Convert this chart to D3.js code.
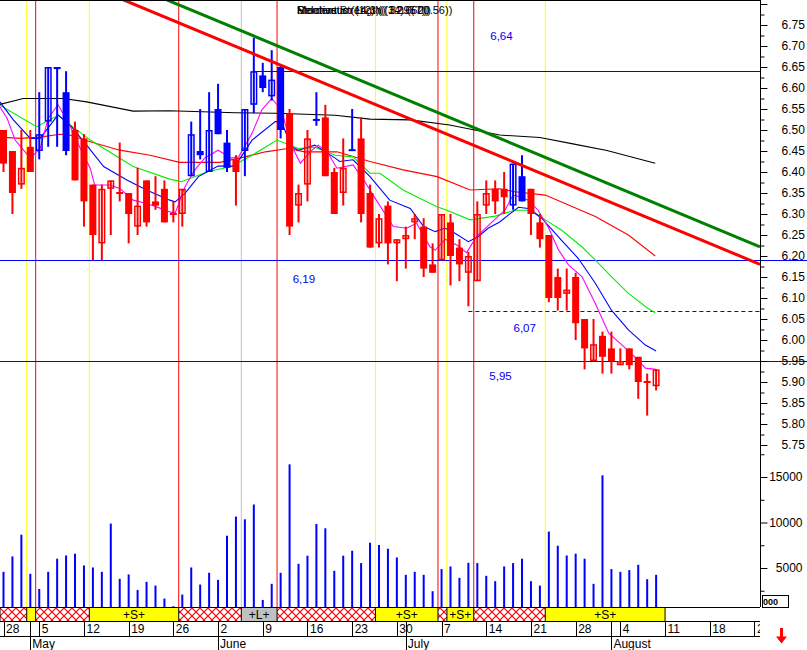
<!DOCTYPE html>
<html><head><meta charset="utf-8">
<script src="https://cdn.jsdelivr.net/npm/d3@7"></script>
<style>
body{margin:0;background:#fff}
svg{display:block}
text{font-family:"Liberation Sans",Arial,sans-serif}
</style></head>
<body><svg id="c" width="807" height="650"></svg>
<script>
// ---------- DATA ----------
const openP  = [6.50,6.45,6.37,6.46,6.45,6.52,6.645,6.59,6.50,6.48,6.37,6.23,6.36,6.35,6.35,6.27,6.38,6.33,6.36,6.30,
                6.30,6.39,6.45,6.40,6.55,6.47,6.43,6.45,6.56,6.63,6.58,6.65,6.54,6.32,6.37,6.524,6.53,6.40,6.35,6.452,
                6.48,6.35,6.23,6.32,6.23,6.24,6.28,6.27,6.18,6.19,6.28,6.22,6.16,6.14,6.32,6.36,6.36,6.32,6.39,6.36,
                6.28,6.25,6.15,6.11,6.15,6.05,5.95,6.01,5.98,5.94,5.98,5.96,5.90,5.89];
const highP  = [6.50,6.45,6.50,6.50,6.59,6.65,6.65,6.64,6.52,6.49,6.37,6.37,6.38,6.47,6.35,6.41,6.38,6.39,6.38,6.33,
                6.36,6.52,6.55,6.59,6.61,6.50,6.44,6.55,6.72,6.66,6.69,6.655,6.55,6.37,6.50,6.59,6.56,6.41,6.48,6.55,
                6.53,6.37,6.30,6.33,6.24,6.27,6.30,6.29,6.23,6.30,6.30,6.24,6.21,6.33,6.38,6.38,6.40,6.42,6.44,6.36,
                6.30,6.25,6.17,6.17,6.16,6.05,6.05,6.02,6.02,5.98,5.98,5.96,5.92,5.93];
const lowP   = [6.40,6.30,6.36,6.40,6.43,6.46,6.46,6.44,6.38,6.27,6.19,6.19,6.25,6.33,6.23,6.25,6.27,6.31,6.28,6.28,
                6.27,6.39,6.43,6.40,6.49,6.40,6.32,6.39,6.54,6.59,6.57,6.48,6.25,6.28,6.33,6.51,6.39,6.30,6.32,6.45,
                6.28,6.22,6.22,6.18,6.14,6.17,6.24,6.15,6.16,6.19,6.13,6.14,6.08,6.14,6.30,6.30,6.30,6.31,6.33,6.25,
                6.22,6.09,6.07,6.07,6.00,5.93,5.95,5.92,5.92,5.94,5.93,5.86,5.82,5.88];
const closeP = [6.42,6.35,6.41,6.40,6.49,6.65,6.65,6.45,6.38,6.33,6.25,6.36,6.38,6.35,6.30,6.32,6.28,6.32,6.28,6.30,
                6.36,6.49,6.44,6.50,6.49,6.41,6.40,6.55,6.64,6.60,6.62,6.50,6.27,6.35,6.48,6.524,6.39,6.30,6.41,6.452,
                6.30,6.22,6.29,6.23,6.24,6.25,6.29,6.17,6.16,6.30,6.20,6.18,6.20,6.30,6.35,6.33,6.34,6.42,6.33,6.30,
                6.24,6.10,6.10,6.12,6.04,5.98,5.99,5.96,5.95,5.95,5.94,5.90,5.90,5.93];
// 1 = long trend (blue candle), 0 = short trend (red candle)
const candleTrend = [0,0,0,0,1,1,1,1,0,0,0,0,0,0,0,0,0,0,0,0,
                     0,1,1,1,1,1,0,1,1,1,1,1,0,0,0,1,0,0,0,1,
                     0,0,0,0,0,0,0,0,0,0,0,0,0,0,0,0,0,1,1,0,
                     0,0,0,0,0,0,0,0,0,0,0,0,0,0];
const volume = [4580,6270,8660,4360,2700,4580,6020,6380,6570,5280,5060,4580,9880,3810,4290,2590,3480,3070,1640,800,
                2080,5060,3180,4470,3700,8550,10650,10350,11980,1490,3260,4470,16390,5460,6350,9840,9360,4690,6350,6900,
                5540,7780,7530,7120,6160,4250,4580,4250,2450,4880,5170,3920,5570,5540,4140,3550,5170,5540,6020,3550,
                3070,9000,7450,6380,6570,6020,3260,15180,4880,4580,4770,5350,3770,4250];
// moving averages, read as [trading-day index, value]
const maLong = [[-0.4,6.561],[2.2,6.575],[6.7,6.575],[9.3,6.567],[14.5,6.545],[18.6,6.546],[25.9,6.541],[30.4,6.540],
  [37.1,6.535],[41,6.526],[45.5,6.524],[49.9,6.512],[55.5,6.488],[60,6.482],[63.7,6.467],[67.5,6.451],[72.9,6.421]];
const ma50 = [[-0.4,6.483],[1.9,6.480],[4.1,6.483],[6.3,6.490],[7.4,6.488],[9.7,6.472],[13,6.452],[16.4,6.440],[19.7,6.423],
  [24.2,6.423],[27,6.436],[29.3,6.448],[31.8,6.456],[33.7,6.448],[37.3,6.448],[41,6.425],[44.7,6.405],[48.5,6.389],
  [52.2,6.357],[55.5,6.360],[57.2,6.353],[60.6,6.345],[66.2,6.294],[69.9,6.250],[72.9,6.200]];
const ma20 = [[-0.4,6.559],[3.7,6.508],[6.1,6.535],[9.7,6.476],[14.5,6.413],[18.6,6.383],[19.9,6.377],[22.9,6.401],
  [25.5,6.413],[27.8,6.440],[30.6,6.476],[33,6.456],[34.8,6.459],[37.1,6.440],[39.1,6.436],[41,6.397],[42.1,6.397],
  [44.7,6.357],[46.2,6.341],[48.5,6.317],[49.6,6.309],[52.2,6.286],[55,6.295],[57.2,6.309],[59.1,6.309],[60.6,6.286],
  [62.4,6.262],[64.7,6.222],[66.2,6.190],[68,6.151],[69.9,6.111],[72.1,6.075],[72.9,6.065]];
const ma10 = [[-0.4,6.567],[1.1,6.524],[3,6.480],[4.1,6.480],[6.1,6.536],[7.6,6.508],[9.3,6.464],[11.2,6.413],[13.8,6.381],
  [16,6.357],[18.6,6.333],[19.2,6.329],[20.3,6.349],[21.8,6.389],[24,6.414],[25.9,6.414],[27.8,6.476],[30.4,6.520],
  [31.1,6.520],[32.2,6.460],[33,6.452],[34.8,6.464],[37.1,6.433],[37.6,6.425],[39.1,6.429],[41,6.389],[43.2,6.333],
  [45.5,6.313],[47,6.270],[48.3,6.258],[49.4,6.266],[50.5,6.254],[52,6.234],[53.1,6.246],[54.2,6.266],[55.5,6.281],
  [56.5,6.298],[57.6,6.316],[58.7,6.313],[60.2,6.290],[62.4,6.238],[64.3,6.194],[66.2,6.135],[68,6.071],[69.9,6.024],
  [71.8,5.988],[73,5.974]];
const ma5 = [[-0.4,6.555],[0.4,6.528],[1.3,6.476],[3,6.433],[4.1,6.456],[5,6.528],[6.1,6.560],[7.4,6.512],[8.6,6.456],
  [9.7,6.409],[10.2,6.369],[11.9,6.369],[13,6.361],[14.5,6.333],[16,6.325],[17.5,6.314],[18.6,6.305],[19.2,6.302],
  [20.3,6.365],[21.4,6.405],[22.5,6.433],[24,6.452],[25.5,6.433],[26.3,6.436],[27.8,6.492],[28.9,6.548],[30,6.575],
  [31.1,6.548],[32.1,6.468],[33.2,6.421],[34.5,6.452],[35.2,6.464],[36.3,6.445],[37.3,6.409],[39.1,6.417],[40.3,6.381],
  [41.7,6.333],[43.6,6.270],[45.1,6.266],[46.2,6.278],[47.7,6.222],[48.3,6.214],[49.4,6.240],[50.7,6.226],[51.8,6.208],
  [52.9,6.246],[54.1,6.270],[55.5,6.298],[56.1,6.309],[57,6.345],[57.8,6.341],[58.7,6.333],[59.8,6.309],[60.9,6.270],
  [62.1,6.214],[63.2,6.179],[64.7,6.151],[66.2,6.087],[67.7,6.016],[69.2,5.988],[70.6,5.960],[71.8,5.933],[73,5.930]];
// trend lines: two anchor points each [index, price]
const trendRed   = [[13.4,6.81],[74.0,6.274]];
const trendGreen = [[18.26,6.81],[60.0,6.440]];
// support / resistance levels (label placed at [li, ly] in index / price units)
const levels = [{v:6.64,from:28,dash:false,full:false,lab:"6,64",li:55.7,ly:6.714},
                {v:6.19,from:-1,dash:false,full:true, lab:"6,19",li:33.6,ly:6.136},
                {v:6.07,from:52,dash:true, full:false,lab:"6,07",li:58.3,ly:6.019},
                {v:5.95,from:-1,dash:false,full:true, lab:"5,95",li:55.6,ly:5.905}];
// trading signals
const signalStart = [0,3,4,10,20,27,31,42,49,50,53,61];
const signalType  = ["x","S","x","S","x","L","x","S","x","S","x","S"];
const signalEnd = 74;
const priceTicks = [5.75,5.80,5.85,5.90,5.95,6.00,6.05,6.10,6.15,6.20,6.25,6.30,6.35,6.40,6.45,6.50,6.55,6.60,6.65,6.70,6.75];
const volTicks = [5000,10000,15000];
const holidays = ["2003-05-01"];
const titleTexts = ["Relative Strength (14) (( 20.56))","Stochastic (14,3)(( 32.660))","Momentum (12)  (( 3.2957))"];

// ---------- SCALES ----------
const svg = d3.select("#c");
const x = d3.scaleLinear().domain([0,84]).range([3.5,3.5+84*8.94]);
const y = d3.scaleLinear().domain([5.75,6.75]).range([445,25]);
const yv = d3.scaleLinear().domain([5000,15000]).range([568,477]);
const AX = 760, BAND_T = 607, BAND_B = 621, DATE_B = 636;

// trading calendar
const cal = [];
{ let d = new Date(Date.UTC(2003,3,28));
  while (cal.length < 95) {
    const wd = d.getUTCDay(), s = d.toISOString().slice(0,10);
    if (wd>0 && wd<6 && !holidays.includes(s)) cal.push(new Date(d));
    d.setUTCDate(d.getUTCDate()+1);
  } }

const defs = svg.append("defs");
const pat = defs.append("pattern").attr("id","hatch").attr("patternUnits","userSpaceOnUse")
  .attr("width",8).attr("height",8);
pat.append("rect").attr("width",8).attr("height",8).attr("fill","#fff");
pat.append("path").attr("d","M0,0L8,8M8,0L0,8").attr("stroke","#ff0000").attr("stroke-width",1.2);
defs.append("clipPath").attr("id","plotclip").append("rect").attr("x",0).attr("y",0).attr("width",AX).attr("height",BAND_T);
defs.append("clipPath").attr("id","dateclip").append("rect").attr("x",0).attr("y",BAND_B).attr("width",AX).attr("height",40);

// ---------- signal vertical lines ----------
const segColor = {x:"#ff0000",S:"#ffff00",L:"#c0c0c0"};
const bx = k => k===0 ? 0 : x(signalStart[k]-0.4);
const ex = k => k===signalStart.length-1 ? x(signalEnd) : x(signalStart[k+1]-0.4);
const gV = svg.append("g");
signalStart.forEach((s,k)=>{
  if(k===0) return;
  gV.append("line").attr("x1",bx(k)).attr("x2",bx(k)).attr("y1",0).attr("y2",BAND_T)
    .attr("stroke",segColor[signalType[k]]).attr("stroke-width",1);
});

// ---------- levels ----------
const gL = svg.append("g");
levels.forEach(l=>{
  const x1 = l.from<0 ? 0 : x(l.from);
  const x2 = l.full ? 807 : AX;
  gL.append("line").attr("x1",x1).attr("x2",x2).attr("y1",Math.round(y(l.v))+0.5).attr("y2",Math.round(y(l.v))+0.5)
    .attr("stroke","#0000ff").attr("stroke-width",1.2).attr("stroke-dasharray",l.dash?"4,3":null);
  gL.append("text").attr("x",x(l.li)).attr("y",y(l.ly)).attr("font-size",11.5).attr("fill","#0000ee")
    .attr("text-anchor","middle").text(l.lab);
});

// ---------- moving averages ----------
const gM = svg.append("g").attr("clip-path","url(#plotclip)");
const lineGen = d3.line().x(d=>x(d[0])).y(d=>y(d[1]));
[[maLong,"#000000"],[ma50,"#ff0000"],[ma20,"#00ee00"],[ma10,"#0000ff"],[ma5,"#ff00ff"]].forEach(([arr,c])=>{
  gM.append("path").attr("d",lineGen(arr)).attr("fill","none").attr("stroke",c).attr("stroke-width",1.1);
});

// ---------- volume ----------
const gVol = svg.append("g");
volume.forEach((v,i)=>{
  gVol.append("rect").attr("x",x(i)-1).attr("y",yv(v)).attr("width",2).attr("height",BAND_T-yv(v)).attr("fill","#0000ff");
});

// ---------- candles ----------
const gC = svg.append("g");
openP.forEach((o,i)=>{
  const c = closeP[i], h = highP[i], l = lowP[i];
  const col = candleTrend[i] ? "#0000ff" : "#ff0000";
  const cx = x(i);
  gC.append("line").attr("x1",cx).attr("x2",cx).attr("y1",y(h)).attr("y2",y(l)).attr("stroke",col).attr("stroke-width",2);
  const top = y(Math.max(o,c)), bot = y(Math.min(o,c));
  if (Math.abs(o-c) < 0.004) {
    gC.append("line").attr("x1",cx-3.5).attr("x2",cx+3.5).attr("y1",top).attr("y2",top).attr("stroke",col).attr("stroke-width",2);
  } else if (c < o) {
    gC.append("rect").attr("x",cx-3.5).attr("y",top).attr("width",7).attr("height",bot-top).attr("fill",col);
  } else {
    gC.append("rect").attr("x",cx-2.75).attr("y",top+0.75).attr("width",5.5).attr("height",Math.max(0.5,bot-top-1.5))
      .attr("fill","none").attr("stroke",col).attr("stroke-width",1.5);
  }
});

// ---------- trend lines ----------
const gT = svg.append("g").attr("clip-path","url(#plotclip)");
[[trendRed,"#ff0000"],[trendGreen,"#008000"]].forEach(([p,c])=>{
  const slope = (p[1][1]-p[0][1])/(p[1][0]-p[0][0]);
  const iEnd = x.invert(AX);
  gT.append("line").attr("x1",x(p[0][0])).attr("y1",y(p[0][1]))
    .attr("x2",x(iEnd)).attr("y2",y(p[0][1]+slope*(iEnd-p[0][0])))
    .attr("stroke",c).attr("stroke-width",3);
});

// ---------- signal band ----------
const gB = svg.append("g");
signalStart.forEach((s,k)=>{
  const t = signalType[k], a = bx(k), b = ex(k);
  gB.append("rect").attr("x",a).attr("y",BAND_T).attr("width",b-a).attr("height",BAND_B-BAND_T)
    .attr("fill", t==="x" ? "url(#hatch)" : (t==="S" ? "#ffff00" : "#c0c0c0"));
  gB.append("line").attr("x1",a).attr("x2",a).attr("y1",BAND_T).attr("y2",BAND_B).attr("stroke","#000").attr("stroke-width",1);
  if (t!=="x" && b-a>20) {
    gB.append("text").attr("x",(a+b)/2).attr("y",BAND_B-2.5).attr("text-anchor","middle").attr("font-size",12)
      .text(t==="S" ? "+S+" : "+L+");
  }
});
gB.append("line").attr("x1",ex(signalStart.length-1)).attr("x2",ex(signalStart.length-1)).attr("y1",BAND_T).attr("y2",BAND_B).attr("stroke","#000");
[BAND_T,BAND_B,DATE_B].forEach(yy=>{
  gB.append("line").attr("x1",0).attr("x2",AX).attr("y1",yy+0.5).attr("y2",yy+0.5).attr("stroke","#000");
});

// ---------- date axis ----------
const gD = svg.append("g").attr("clip-path","url(#dateclip)");
cal.forEach((d,i)=>{
  if (x(i) > AX+20) return;
  if (d.getUTCDay()===1) {
    gD.append("line").attr("x1",Math.round(x(i))+0.5).attr("x2",Math.round(x(i))+0.5).attr("y1",BAND_B).attr("y2",DATE_B).attr("stroke","#000");
    gD.append("text").attr("x",x(i)+2.5).attr("y",DATE_B-3).attr("font-size",12).text(d.getUTCDate());
  }
  if (i>0 && d.getUTCMonth()!==cal[i-1].getUTCMonth()) {
    gD.append("line").attr("x1",Math.round(x(i))+0.5).attr("x2",Math.round(x(i))+0.5).attr("y1",BAND_B).attr("y2",650).attr("stroke","#000");
    gD.append("text").attr("x",x(i)+2).attr("y",648).attr("font-size",12)
      .text(d.toLocaleString("en-US",{month:"long",timeZone:"UTC"}));
  }
});

// ---------- price axis ----------
svg.append("line").attr("x1",AX+0.5).attr("x2",AX+0.5).attr("y1",0).attr("y2",BAND_T).attr("stroke","#000");
const minorP = d3.range(5.75,6.81,0.025).map(v=>+v.toFixed(3));
const gA = svg.append("g").attr("transform",`translate(${AX+0.5},0)`);
gA.call(d3.axisRight(y).tickValues(minorP).tickSize(4).tickFormat(""));
gA.append("g").call(d3.axisRight(y).tickValues(priceTicks.concat([6.80])).tickSize(7).tickPadding(14).tickFormat(v=>v>6.76?"":d3.format(".2f")(v)));
const gAV = svg.append("g").attr("transform",`translate(${AX+0.5},0)`);
gAV.call(d3.axisRight(yv).tickValues([2500,7500,12500,17500]).tickSize(4).tickFormat(""));
gAV.append("g").call(d3.axisRight(yv).tickValues(volTicks).tickSize(7).tickPadding(14).tickFormat(d3.format("d")));
svg.selectAll(".domain").remove();
svg.selectAll(".tick line").attr("stroke","#000");
svg.selectAll(".tick text").attr("font-size",12).attr("font-family","'Liberation Sans',Arial,sans-serif").attr("fill","#000");
gAV.selectAll(".tick text").attr("text-anchor","end").attr("x",42);

// small volume-zero box
svg.append("rect").attr("x",762.5).attr("y",595.5).attr("width",26).attr("height",12).attr("fill","none").attr("stroke","#000");
svg.append("text").attr("x",763).attr("y",605).attr("font-size",9).attr("font-weight","bold").text("000");

// top border
svg.append("line").attr("x1",0).attr("x2",AX).attr("y1",0.5).attr("y2",0.5).attr("stroke","#000");

// title (overlapping indicator captions)
titleTexts.forEach(t=>{
  svg.append("text").attr("x",297).attr("y",14).attr("font-size",11).attr("fill","#000").text(t);
});

// down arrow
svg.append("path").attr("d","M780,628H783V636.5H787L781.5,643.5L776,636.5H780Z").attr("fill","#ff0000");
</script>
</body></html>
